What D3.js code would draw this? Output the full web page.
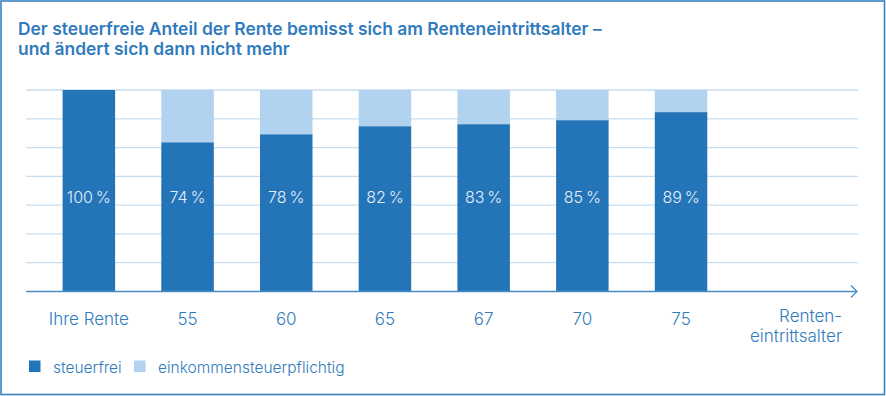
<!DOCTYPE html>
<html lang="de">
<head>
<meta charset="UTF-8">
<title>Steuerfreier Anteil der Rente</title>
<script src="https://d3js.org/d3.v7.min.js"></script>
<style>
  body { margin: 0; background: #fff; }
  svg { display: block; font-family: Inter, Roboto, "Noto Sans", sans-serif; }
</style>
</head>
<body>
<svg id="chart" width="886" height="396"></svg>
<script>
// chart data
const categories = ["Ihre Rente", "55", "60", "65", "67", "70", "75"];
const steuerfrei = [100, 74, 78, 82, 83, 85, 89];
const legendLabels = ["steuerfrei", "einkommensteuerpflichtig"];
const titleLines = ["Der steuerfreie Anteil der Rente bemisst sich am Renteneintrittsalter \u2013",
                    "und ändert sich dann nicht mehr"];
const axisTitle = ["Renten-", "eintrittsalter"];

const dark = "#2475b7", light = "#b2d3ef", grid = "#c6ddf1", txt = "#2f7bbd";

let svg = d3.select("#chart");
let width = 886, height = 396;

// frame
svg.append("rect").attr("x", 1).attr("y", 1).attr("width", width - 2.5).attr("height", height - 2.5)
   .attr("fill", "none").attr("stroke", "#3a80bf").attr("stroke-width", 1.6);

// title
svg.append("g").selectAll("text").data(titleLines).enter().append("text")
   .attr("x", 18).attr("y", (d, i) => 35 + i * 20)
   .attr("fill", txt).attr("font-size", 17.4).attr("font-weight", 600)
   .text(d => d);

// band step ~98.7, bar ~52.5 wide
let x = d3.scaleBand().domain(categories).range([39.5, 730.4]).paddingInner(0.468).paddingOuter(0.234);
let y = d3.scaleLinear().domain([0, 100]).range([291.5, 90]);

// gridlines at sevenths
let gridVals = d3.range(1, 8).map(i => i * 100 / 7);
svg.append("g").selectAll("line").data(gridVals).enter().append("line")
   .attr("x1", 26).attr("x2", 858)
   .attr("y1", d => y(d)).attr("y2", d => y(d))
   .attr("stroke", grid).attr("stroke-width", 1.3);

// stacked bars
let bars = svg.append("g").selectAll("g").data(categories).enter().append("g");
bars.append("rect")
   .attr("x", d => x(d)).attr("width", x.bandwidth())
   .attr("y", y(100)).attr("height", (d, i) => y(steuerfrei[i]) - y(100))
   .attr("fill", light);
bars.append("rect")
   .attr("x", d => x(d)).attr("width", x.bandwidth())
   .attr("y", (d, i) => y(steuerfrei[i])).attr("height", (d, i) => y(0) - y(steuerfrei[i]))
   .attr("fill", dark);
bars.append("text")
   .attr("x", d => x(d) + x.bandwidth() / 2).attr("y", 203)
   .attr("text-anchor", "middle").attr("fill", "#e3eefa")
   .attr("font-size", 16).attr("font-weight", 300)
   .text((d, i) => steuerfrei[i] + "\u2009%");

// x axis with arrow
svg.append("line").attr("x1", 26).attr("x2", 857).attr("y1", y(0)).attr("y2", y(0))
   .attr("stroke", "#4a8ac5").attr("stroke-width", 1.3);
svg.append("path")
   .attr("d", "M" + 851 + "," + (y(0) - 6) + "L857," + y(0) + "L851," + (y(0) + 6))
   .attr("fill", "none").attr("stroke", "#4a8ac5").attr("stroke-width", 1.3);

svg.append("g").selectAll("text").data(categories).enter().append("text")
   .attr("x", d => x(d) + x.bandwidth() / 2).attr("y", 325)
   .attr("text-anchor", "middle").attr("fill", txt).attr("font-size", 17).attr("font-weight", 300)
   .text(d => d);

svg.append("g").selectAll("text").data(axisTitle).enter().append("text")
   .attr("x", 842).attr("y", (d, i) => 322 + i * 20)
   .attr("text-anchor", "end").attr("fill", txt).attr("font-size", 17).attr("font-weight", 300)
   .text(d => d);

// legend
let legendX = [29, 134];
let leg = svg.append("g").selectAll("g").data(legendLabels).enter().append("g")
   .attr("transform", (d, i) => "translate(" + legendX[i] + ",360.5)");
leg.append("rect").attr("width", 11.5).attr("height", 11.5).attr("fill", (d, i) => i ? light : dark);
leg.append("text").attr("x", 24).attr("y", 12).attr("fill", txt).attr("font-size", 15.5).attr("font-weight", 300)
   .text(d => d);
</script>
</body>
</html>
